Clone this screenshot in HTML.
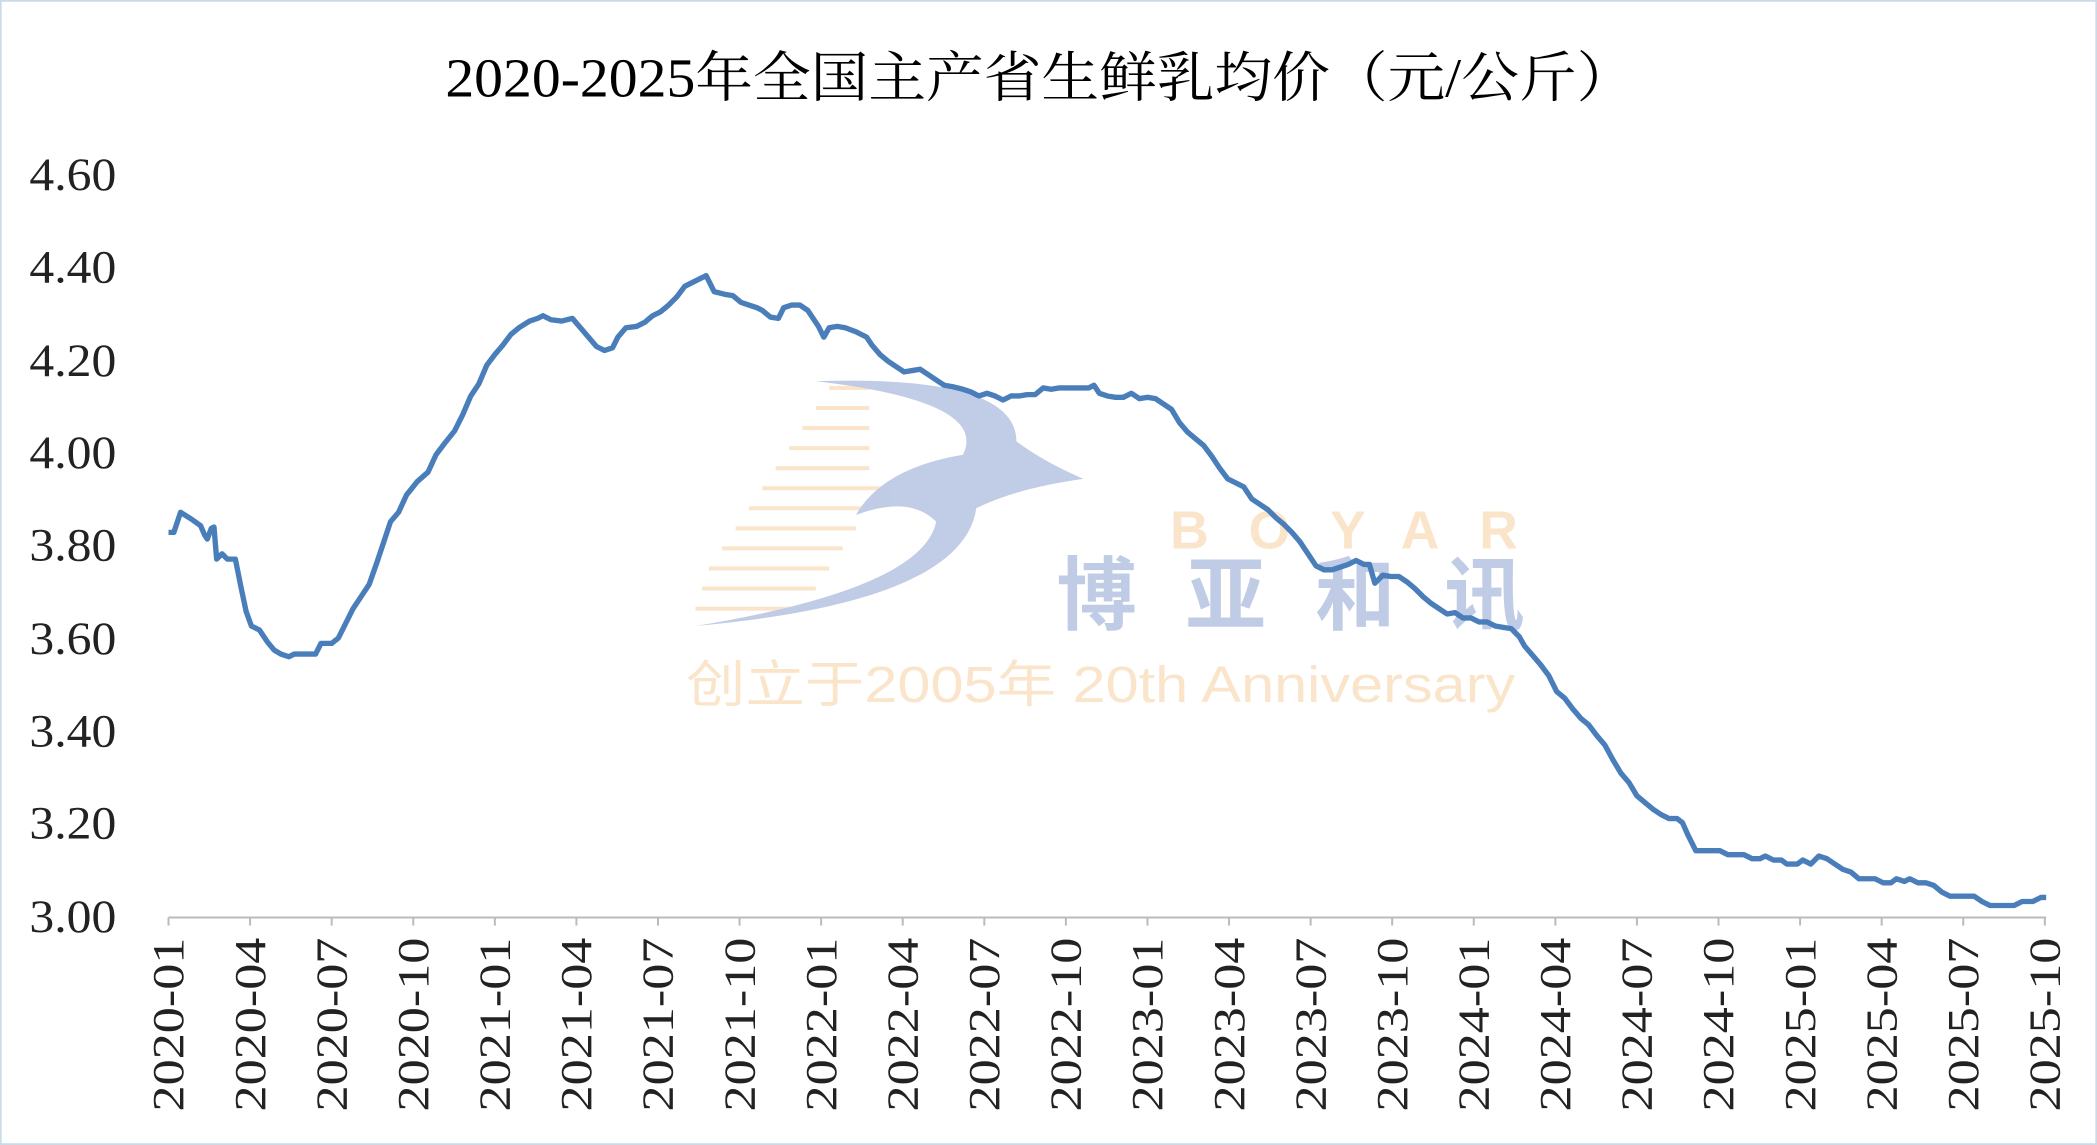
<!DOCTYPE html>
<html><head><meta charset="utf-8"><style>
html,body{margin:0;padding:0;background:#fff;}
svg{display:block;}
</style></head><body>
<svg width="2097" height="1145" viewBox="0 0 1568 856" xmlns="http://www.w3.org/2000/svg">
<rect x="0.5" y="0.5" width="1567" height="855" fill="#fff" stroke="#c9dbe8" stroke-width="1.5"/>
<text x="333" y="72" textLength="889" lengthAdjust="spacingAndGlyphs" font-family="Liberation Serif, Noto Serif CJK SC, serif" font-size="41" fill="#000">2020-2025年全国主产省生鲜乳均价（元/公斤）</text>
<g font-family="Liberation Serif, Noto Serif CJK SC, serif" font-size="35" fill="#222">
<text x="22" y="142" textLength="65" lengthAdjust="spacingAndGlyphs">4.60</text><text x="22" y="211" textLength="65" lengthAdjust="spacingAndGlyphs">4.40</text><text x="22" y="281" textLength="65" lengthAdjust="spacingAndGlyphs">4.20</text><text x="22" y="350" textLength="65" lengthAdjust="spacingAndGlyphs">4.00</text><text x="22" y="419" textLength="65" lengthAdjust="spacingAndGlyphs">3.80</text><text x="22" y="489" textLength="65" lengthAdjust="spacingAndGlyphs">3.60</text><text x="22" y="558" textLength="65" lengthAdjust="spacingAndGlyphs">3.40</text><text x="22" y="627" textLength="65" lengthAdjust="spacingAndGlyphs">3.20</text><text x="22" y="697" textLength="65" lengthAdjust="spacingAndGlyphs">3.00</text>
</g>
<!-- watermark -->
<g opacity="0.35">
<g stroke="#f3b56a" stroke-width="3">
<line x1="620" y1="290" x2="650" y2="290"/><line x1="610" y1="305" x2="650" y2="305"/><line x1="600" y1="320" x2="650" y2="320"/><line x1="590" y1="335" x2="650" y2="335"/><line x1="580" y1="350" x2="650" y2="350"/><line x1="570" y1="365" x2="660" y2="365"/><line x1="560" y1="380" x2="650" y2="380"/><line x1="550" y1="395" x2="640" y2="395"/><line x1="540" y1="410" x2="630" y2="410"/><line x1="530" y1="425" x2="620" y2="425"/><line x1="525" y1="440" x2="610" y2="440"/><line x1="520" y1="455" x2="600" y2="455"/>
</g>
<path d="M610 285 Q760 280 760 330 Q780 345 810 358 Q760 365 730 380 Q720 450 520 468 Q690 440 700 390 Q680 370 640 385 Q660 350 720 340 Q740 300 610 285Z" fill="#4c6fb8"/>
<text x="875" y="410" textLength="260" lengthAdjust="spacing" font-family="Liberation Sans, sans-serif" font-weight="bold" font-size="40" fill="#f3b56a">BOYAR</text>
<text x="790" y="466" textLength="350" lengthAdjust="spacing" font-family="Liberation Sans, Noto Sans CJK SC, sans-serif" font-weight="bold" font-size="60" fill="#4c6fb8">博亚和讯</text>
<text x="513" y="525" textLength="620" lengthAdjust="spacingAndGlyphs" font-family="Liberation Sans, Noto Sans CJK SC, sans-serif" font-size="38" fill="#f3b56a">创立于2005年 20th Anniversary</text>
</g>
<line x1="126" y1="686" x2="1530" y2="686" stroke="#bbb" stroke-width="1.5"/>
<polyline fill="none" stroke="#4a7ebb" stroke-width="4" stroke-linejoin="round" points="126,398 130,398 135,383 143,388 150,393 153,400 155,403 158,395 160,394 162,418 166,414 170,418 176,418 180,438 184,457 188,468 194,471 200,480 205,486 210,489 216,491 220,489 230,489 236,489 240,481 248,481 253,477 258,467 264,455 270,446 276,437 282,420 288,402 292,390 298,383 304,370 312,360 320,353 326,340 332,332 340,322 346,310 352,296 358,287 364,273 370,265 376,258 382,250 388,245 396,240 402,238 406,236 412,239 420,240 428,238 434,245 440,252 446,259 452,262 458,260 462,252 468,245 476,244 482,241 488,236 494,233 500,228 506,222 512,214 520,210 528,206 534,218 542,220 548,221 554,226 560,228 566,230 570,232 576,237 582,238 586,230 592,228 598,228 604,232 608,238 612,244 616,252 620,245 626,244 632,245 640,248 648,252 652,258 658,265 664,270 670,274 676,278 682,277 688,276 694,280 700,284 706,288 712,289 720,291 726,293 732,296 738,294 744,296 750,299 756,296 762,296 768,295 774,295 780,290 786,291 792,290 798,290 806,290 814,290 818,288 822,294 828,296 834,297 840,297 846,294 852,298 858,297 864,298 870,302 876,306 882,316 888,323 894,328 900,333 906,341 912,350 918,358 924,361 930,364 936,373 942,377 948,381 954,387 960,392 966,398 972,405 978,414 984,423 990,426 996,426 1002,424 1008,422 1014,419 1020,422 1024,422 1028,436 1034,430 1040,431 1046,431 1052,435 1058,440 1064,446 1070,451 1076,455 1082,459 1088,458 1094,462 1100,462 1106,465 1112,465 1118,468 1124,469 1130,470 1136,476 1140,483 1146,490 1152,497 1158,505 1164,517 1170,522 1176,530 1182,537 1188,542 1194,550 1200,557 1206,568 1212,578 1218,585 1224,595 1230,600 1236,605 1242,609 1248,612 1254,612 1258,615 1262,624 1268,636 1274,636 1280,636 1286,636 1292,639 1298,639 1304,639 1310,642 1316,642 1320,640 1326,643 1332,643 1336,646 1344,646 1348,643 1354,646 1360,640 1366,642 1372,646 1378,650 1384,652 1390,657 1396,657 1402,657 1408,660 1414,660 1418,657 1424,659 1428,657 1434,660 1440,660 1446,662 1452,667 1458,670 1464,670 1470,670 1476,670 1482,674 1488,677 1494,677 1500,677 1506,677 1512,674 1520,674 1526,671 1530,671"/>
<g font-family="Liberation Serif, serif" font-size="33" fill="#222">
<g transform="translate(137,831) rotate(-90)"><text textLength="130" lengthAdjust="spacingAndGlyphs">2020-01</text></g>
<g transform="translate(198,831) rotate(-90)"><text textLength="130" lengthAdjust="spacingAndGlyphs">2020-04</text></g>
<g transform="translate(259,831) rotate(-90)"><text textLength="130" lengthAdjust="spacingAndGlyphs">2020-07</text></g>
<g transform="translate(320,831) rotate(-90)"><text textLength="130" lengthAdjust="spacingAndGlyphs">2020-10</text></g>
<g transform="translate(381,831) rotate(-90)"><text textLength="130" lengthAdjust="spacingAndGlyphs">2021-01</text></g>
<g transform="translate(442,831) rotate(-90)"><text textLength="130" lengthAdjust="spacingAndGlyphs">2021-04</text></g>
<g transform="translate(503,831) rotate(-90)"><text textLength="130" lengthAdjust="spacingAndGlyphs">2021-07</text></g>
<g transform="translate(564,831) rotate(-90)"><text textLength="130" lengthAdjust="spacingAndGlyphs">2021-10</text></g>
<g transform="translate(625,831) rotate(-90)"><text textLength="130" lengthAdjust="spacingAndGlyphs">2022-01</text></g>
<g transform="translate(686,831) rotate(-90)"><text textLength="130" lengthAdjust="spacingAndGlyphs">2022-04</text></g>
<g transform="translate(747,831) rotate(-90)"><text textLength="130" lengthAdjust="spacingAndGlyphs">2022-07</text></g>
<g transform="translate(808,831) rotate(-90)"><text textLength="130" lengthAdjust="spacingAndGlyphs">2022-10</text></g>
<g transform="translate(869,831) rotate(-90)"><text textLength="130" lengthAdjust="spacingAndGlyphs">2023-01</text></g>
<g transform="translate(930,831) rotate(-90)"><text textLength="130" lengthAdjust="spacingAndGlyphs">2023-04</text></g>
<g transform="translate(991,831) rotate(-90)"><text textLength="130" lengthAdjust="spacingAndGlyphs">2023-07</text></g>
<g transform="translate(1052,831) rotate(-90)"><text textLength="130" lengthAdjust="spacingAndGlyphs">2023-10</text></g>
<g transform="translate(1113,831) rotate(-90)"><text textLength="130" lengthAdjust="spacingAndGlyphs">2024-01</text></g>
<g transform="translate(1174,831) rotate(-90)"><text textLength="130" lengthAdjust="spacingAndGlyphs">2024-04</text></g>
<g transform="translate(1235,831) rotate(-90)"><text textLength="130" lengthAdjust="spacingAndGlyphs">2024-07</text></g>
<g transform="translate(1296,831) rotate(-90)"><text textLength="130" lengthAdjust="spacingAndGlyphs">2024-10</text></g>
<g transform="translate(1357,831) rotate(-90)"><text textLength="130" lengthAdjust="spacingAndGlyphs">2025-01</text></g>
<g transform="translate(1418,831) rotate(-90)"><text textLength="130" lengthAdjust="spacingAndGlyphs">2025-04</text></g>
<g transform="translate(1479,831) rotate(-90)"><text textLength="130" lengthAdjust="spacingAndGlyphs">2025-07</text></g>
<g transform="translate(1540,831) rotate(-90)"><text textLength="130" lengthAdjust="spacingAndGlyphs">2025-10</text></g>
</g>
<g stroke="#bbb" stroke-width="1.5">
<line x1="126" y1="686" x2="126" y2="692"/><line x1="187" y1="686" x2="187" y2="692"/><line x1="248" y1="686" x2="248" y2="692"/><line x1="309" y1="686" x2="309" y2="692"/><line x1="370" y1="686" x2="370" y2="692"/><line x1="431" y1="686" x2="431" y2="692"/><line x1="492" y1="686" x2="492" y2="692"/><line x1="553" y1="686" x2="553" y2="692"/><line x1="614" y1="686" x2="614" y2="692"/><line x1="675" y1="686" x2="675" y2="692"/><line x1="736" y1="686" x2="736" y2="692"/><line x1="797" y1="686" x2="797" y2="692"/><line x1="858" y1="686" x2="858" y2="692"/><line x1="919" y1="686" x2="919" y2="692"/><line x1="980" y1="686" x2="980" y2="692"/><line x1="1041" y1="686" x2="1041" y2="692"/><line x1="1102" y1="686" x2="1102" y2="692"/><line x1="1163" y1="686" x2="1163" y2="692"/><line x1="1224" y1="686" x2="1224" y2="692"/><line x1="1285" y1="686" x2="1285" y2="692"/><line x1="1346" y1="686" x2="1346" y2="692"/><line x1="1407" y1="686" x2="1407" y2="692"/><line x1="1468" y1="686" x2="1468" y2="692"/><line x1="1529" y1="686" x2="1529" y2="692"/>
</g>
</svg>
</body></html>
